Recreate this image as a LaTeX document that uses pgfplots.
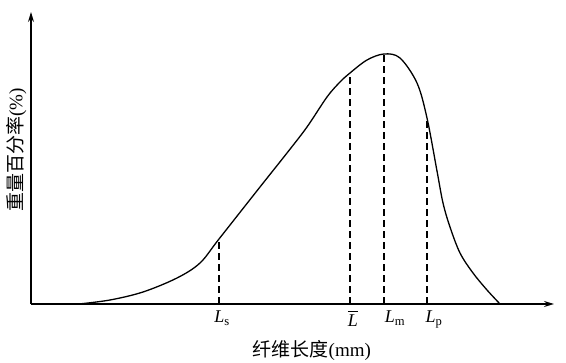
\documentclass[border=0pt]{standalone}
\usepackage{fontspec}
\setmainfont{Liberation Serif}
\newfontfamily\cjk{Noto Sans CJK SC}
\usepackage{pgfplots}
\pgfplotsset{compat=1.18}
\usetikzlibrary{arrows.meta}
\begin{document}
\begin{tikzpicture}
\useasboundingbox (0,0) rectangle (566pt,363pt);
\begin{axis}[
  at={(31pt,59pt)}, anchor=south west,
  width=523pt, height=292pt, scale only axis,
  xmin=0, xmax=523, ymin=0, ymax=292,
  axis lines=left,
  axis line style={line width=1.3pt, -{Stealth[length=10pt,width=6pt]}},
  ytick=\empty,
  xtick={191,322,364,403},
  xticklabels={\textit{L}\textsubscript{s}, $\overline{\rule{0pt}{13.5pt}\smash{\textit{L}}}$, \textit{L}\textsubscript{m}, \textit{L}\textsubscript{p}},
  xtick style={draw=none},
  xticklabel style={font=\fontsize{18}{21}\selectfont, yshift=-1pt},
  xlabel={{\cjk 纤维长度}(mm)},
  ylabel={{\cjk 重量百分率}(\%)},
  xlabel style={at={(axis description cs:0.537,-0.158)}, anchor=center, font=\fontsize{19}{22}\selectfont},
  ylabel style={at={(axis description cs:-0.028,0.527)}, anchor=center, rotate=0, font=\fontsize{19}{22}\selectfont},
  clip=false,
]
\addplot[black, line width=1.3pt, smooth, tension=0.55] coordinates {
(48,0) (79,4) (112,12) (146,26) (169,41) (188,65) (229,117) (256,151)
(276,177) (296,207) (309,222) (319,231) (336,244) (353,250) (369,246) (386,221)
(396,186) (406,133) (412,101) (419,77) (429,51) (442,31) (456,14) (469,0)
};
\addplot[black, line width=1.2pt, dash pattern=on 7pt off 4pt] coordinates {(188,0) (188,65)};
\addplot[black, line width=1.2pt, dash pattern=on 7pt off 4pt] coordinates {(319,0) (319,231)};
\addplot[black, line width=1.2pt, dash pattern=on 7pt off 4pt] coordinates {(353,0) (353,250)};
\addplot[black, line width=1.2pt, dash pattern=on 7pt off 4pt] coordinates {(396,0) (396,186)};
\end{axis}
\end{tikzpicture}
\end{document}
